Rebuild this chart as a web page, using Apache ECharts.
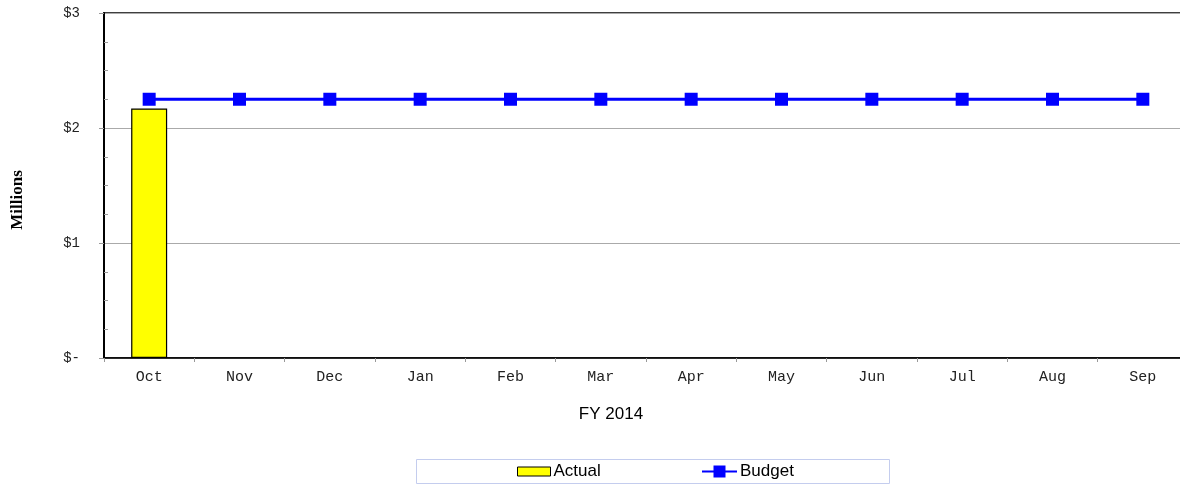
<!DOCTYPE html>
<html>
<head>
<meta charset="utf-8">
<script src="https://cdn.jsdelivr.net/npm/echarts@6/dist/echarts.min.js"></script>
<style>
    html, body { margin: 0; padding: 0; background: #fff; overflow: hidden; }
    /* plot runs a little past the right edge of the window, as in the original */
    #main { width: 1188px; height: 485px; }
</style>
</head>
<body>
<div id="main"></div>
<script>
// months of the fiscal year
var months = ['Oct', 'Nov', 'Dec', 'Jan', 'Feb', 'Mar', 'Apr', 'May', 'Jun', 'Jul', 'Aug', 'Sep'];
// values in millions of dollars
var actual = [2.17, null, null, null, null, null, null, null, null, null, null, null];
var budget = [2.25, 2.25, 2.25, 2.25, 2.25, 2.25, 2.25, 2.25, 2.25, 2.25, 2.25, 2.25];
var yTickLabels = { 0: '$-', 1: '$1', 2: '$2', 3: '$3' };

var myChart = echarts.init(document.getElementById('main'));

var monoFont = '"Liberation Mono", "Courier New", monospace';
var sansFont = 'Arial, "Liberation Sans", sans-serif';

var legendText = {
    fontFamily: sansFont,
    fontSize: 17,
    lineHeight: 17,
    color: '#000',
    padding: [0, 0, 0, -2]
};

var option = {
    backgroundColor: '#fff',
    animation: false,
    grid: {
        left: 104,
        right: 0,
        top: 13,
        bottom: 127,
        outerBoundsMode: 'none',
        containLabel: false,
        show: true,
        borderColor: '#000',
        borderWidth: 1.5
    },
    graphic: [
        {
            type: 'text',
            x: 17.5,
            y: 200,
            rotation: Math.PI / 2,
            style: {
                text: 'Millions',
                fontFamily: '"Liberation Serif", "Times New Roman", serif',
                fontWeight: 'bold',
                fontSize: 17,
                fill: '#000',
                textAlign: 'center',
                textVerticalAlign: 'middle'
            }
        },
        {
            type: 'text',
            x: 611,
            y: 414,
            style: {
                text: 'FY 2014',
                fontFamily: sansFont,
                fontSize: 17,
                fill: '#000',
                textAlign: 'center',
                textVerticalAlign: 'middle'
            }
        },
        {
            // legend frame
            type: 'rect',
            z: -1,
            shape: { x: 416.5, y: 459.5, width: 473, height: 24 },
            style: { fill: '#fff', stroke: '#c4cdee', lineWidth: 1 }
        }
    ],
    legend: [
        {
            left: 517,
            top: 463,
            padding: 0,
            itemWidth: 33,
            itemHeight: 9,
            textStyle: legendText,
            data: [
                { name: 'Actual', icon: 'rect', itemStyle: { color: '#ffff00', borderColor: '#000', borderWidth: 1 } }
            ]
        },
        {
            left: 701,
            top: 463,
            padding: 0,
            itemWidth: 35,
            itemHeight: 15,
            textStyle: legendText,
            data: ['Budget']
        }
    ],
    xAxis: {
        type: 'category',
        data: months,
        axisLine: { lineStyle: { color: '#000', width: 1.5 } },
        axisTick: { show: true, length: 4, lineStyle: { color: '#999' } },
        axisLabel: {
            fontFamily: monoFont,
            fontSize: 15,
            color: '#222',
            margin: 12
        }
    },
    yAxis: [
        {
            type: 'value',
            min: 0,
            max: 3,
            interval: 1,
            axisLine: { show: true, lineStyle: { color: '#000', width: 2 } },
            axisTick: { show: true, inside: false, length: 5, lineStyle: { color: '#999' } },
            splitLine: { show: true, lineStyle: { color: '#aaa' } },
            axisLabel: {
                fontFamily: monoFont,
                fontSize: 14,
                color: '#222',
                margin: 24,
                formatter: function (v) {
                    return yTickLabels[v] !== undefined ? yTickLabels[v] : '';
                }
            }
        },
        {
            // same scale, only for the small inside ticks
            type: 'value',
            position: 'left',
            min: 0,
            max: 3,
            interval: 1,
            axisLine: { show: false },
            axisTick: { show: false, inside: true },
            minorTick: { show: true, splitNumber: 4, length: 4, lineStyle: { color: '#999' } },
            splitLine: { show: false },
            axisLabel: { show: false }
        }
    ],
    series: [
        {
            name: 'Actual',
            type: 'bar',
            data: actual,
            barWidth: 36,
            itemStyle: { color: '#ffff00', borderColor: '#000', borderWidth: 1.2 }
        },
        {
            name: 'Budget',
            type: 'line',
            data: budget,
            symbol: 'rect',
            symbolSize: 13,
            lineStyle: { color: '#0000ff', width: 3 },
            itemStyle: { color: '#0000ff' }
        }
    ]
};

myChart.setOption(option);
</script>
</body>
</html>
